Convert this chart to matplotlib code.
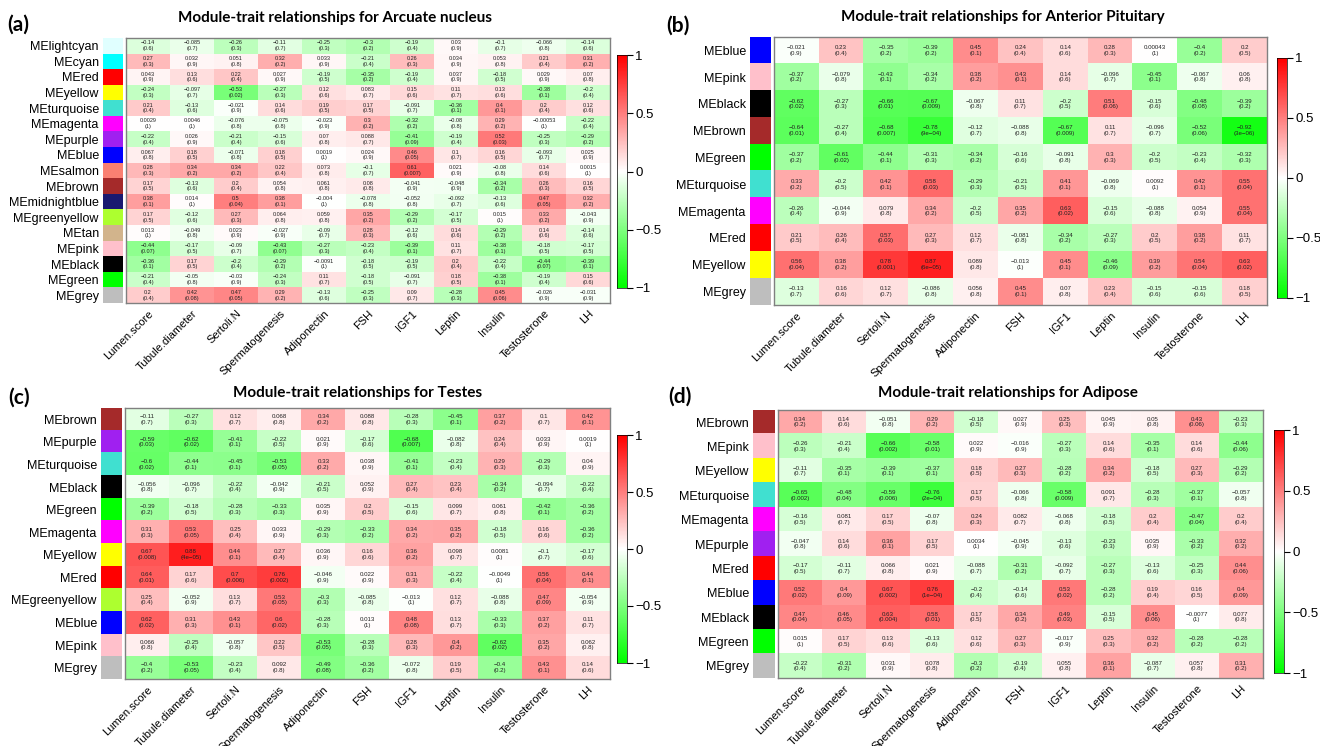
import numpy as np
import matplotlib.pyplot as plt
from matplotlib.colors import LinearSegmentedColormap, ListedColormap

W, H = 1320, 746

traits = ['Lumen.score', 'Tubule.diameter', 'Sertoli.N', 'Spermatogenesis', 'Adiponectin',
          'FSH', 'IGF1', 'Leptin', 'Insulin', 'Testosterone', 'LH']

rcolors = {'lightcyan': '#E0FFFF', 'cyan': '#00FFFF', 'red': '#FF0000', 'yellow': '#FFFF00',
           'turquoise': '#40E0D0', 'magenta': '#FF00FF', 'purple': '#A020F0', 'blue': '#0000FF',
           'salmon': '#FA8072', 'brown': '#A52A2A', 'midnightblue': '#191970',
           'greenyellow': '#ADFF2F', 'tan': '#D2B48C', 'pink': '#FFC0CB', 'black': '#000000',
           'green': '#00FF00', 'grey': '#BEBEBE'}

# (a) Arcuate nucleus
mods_a = ['lightcyan', 'cyan', 'red', 'yellow', 'turquoise', 'magenta', 'purple', 'blue', 'salmon',
          'brown', 'midnightblue', 'greenyellow', 'tan', 'pink', 'black', 'green', 'grey']
cor_a = [
    [-0.14, -0.085, -0.26, -0.11, -0.25, -0.3, -0.19, 0.03, -0.1, -0.066, -0.14],
    [0.27, 0.032, 0.051, 0.32, 0.033, -0.21, 0.26, 0.034, 0.053, 0.21, 0.31],
    [0.043, 0.13, 0.22, 0.027, -0.19, -0.35, -0.19, 0.037, -0.18, 0.029, 0.07],
    [-0.24, -0.097, -0.53, -0.27, 0.12, 0.083, 0.15, 0.11, 0.13, -0.38, -0.2],
    [0.21, -0.13, -0.021, 0.14, 0.19, 0.17, -0.091, -0.36, 0.4, 0.2, 0.12],
    [0.0029, 0.0046, -0.076, -0.075, -0.023, 0.3, -0.32, -0.08, 0.29, -0.00053, -0.22],
    [-0.22, 0.026, -0.21, -0.15, 0.07, 0.088, -0.41, -0.19, 0.52, -0.25, -0.29],
    [0.067, 0.18, -0.071, 0.18, 0.0019, 0.024, 0.46, 0.1, 0.16, -0.093, 0.025],
    [0.28, 0.34, 0.34, 0.22, 0.073, -0.1, 0.61, 0.021, -0.08, 0.14, 0.0015],
    [0.17, -0.13, 0.2, 0.054, 0.061, 0.08, -0.041, -0.048, -0.34, 0.26, 0.16],
    [0.38, 0.014, 0.5, 0.38, -0.004, -0.078, -0.052, -0.092, -0.13, 0.47, 0.32],
    [0.17, -0.12, 0.27, 0.064, 0.059, 0.35, -0.29, -0.17, 0.015, 0.33, -0.043],
    [0.013, -0.049, 0.023, -0.027, -0.09, 0.28, -0.12, 0.14, -0.29, 0.14, -0.14],
    [-0.44, -0.17, -0.09, -0.43, -0.27, -0.23, -0.39, 0.11, -0.38, -0.18, -0.17],
    [-0.36, 0.17, -0.2, -0.29, -0.0091, -0.18, -0.19, 0.2, -0.22, -0.44, -0.39],
    [-0.21, -0.05, -0.03, -0.24, 0.11, -0.18, -0.091, 0.18, -0.38, -0.19, 0.15],
    [0.2, 0.42, 0.47, 0.29, -0.13, -0.25, 0.09, -0.28, 0.45, -0.026, -0.031],
]
p_a = [
    [0.6, 0.7, 0.3, 0.7, 0.3, 0.2, 0.4, 0.9, 0.7, 0.8, 0.6],
    [0.3, 0.9, 0.8, 0.2, 0.9, 0.4, 0.3, 0.9, 0.8, 0.4, 0.2],
    [0.9, 0.6, 0.4, 0.9, 0.5, 0.2, 0.4, 0.9, 0.5, 0.9, 0.8],
    [0.3, 0.7, 0.02, 0.3, 0.6, 0.7, 0.6, 0.7, 0.6, 0.1, 0.4],
    [0.4, 0.6, 0.9, 0.6, 0.5, 0.5, 0.7, 0.1, 0.1, 0.4, 0.6],
    [1, 1, 0.8, 0.8, 0.9, 0.2, 0.2, 0.8, 0.2, 1, 0.4],
    [0.4, 0.9, 0.4, 0.6, 0.8, 0.7, 0.09, 0.4, 0.03, 0.3, 0.2],
    [0.8, 0.5, 0.8, 0.5, 1, 0.9, 0.05, 0.7, 0.5, 0.7, 0.9],
    [0.3, 0.2, 0.2, 0.4, 0.8, 0.7, 0.007, 0.9, 0.8, 0.6, 1],
    [0.5, 0.6, 0.4, 0.8, 0.8, 0.8, 0.9, 0.9, 0.2, 0.3, 0.5],
    [0.1, 1, 0.04, 0.1, 1, 0.8, 0.8, 0.7, 0.6, 0.05, 0.2],
    [0.5, 0.6, 0.3, 0.8, 0.8, 0.2, 0.2, 0.5, 1, 0.2, 0.9],
    [1, 0.8, 0.9, 0.9, 0.7, 0.3, 0.6, 0.6, 0.2, 0.6, 0.6],
    [0.07, 0.5, 0.7, 0.07, 0.3, 0.4, 0.1, 0.7, 0.1, 0.5, 0.5],
    [0.1, 0.5, 0.4, 0.2, 1, 0.5, 0.5, 0.4, 0.4, 0.07, 0.1],
    [0.4, 0.8, 0.9, 0.3, 0.7, 0.5, 0.7, 0.5, 0.1, 0.4, 0.6],
    [0.4, 0.08, 0.05, 0.2, 0.6, 0.3, 0.7, 0.3, 0.06, 0.9, 0.9],
]

# (b) Anterior Pituitary
mods_b = ['blue', 'pink', 'black', 'brown', 'green', 'turquoise', 'magenta', 'red', 'yellow', 'grey']
cor_b = [
    [-0.021, 0.23, -0.35, -0.39, 0.45, 0.24, 0.14, 0.28, 0.00043, -0.4, 0.2],
    [-0.37, -0.079, -0.43, -0.34, 0.38, 0.43, 0.14, -0.096, -0.45, -0.067, 0.06],
    [-0.62, -0.27, -0.66, -0.67, -0.067, 0.11, -0.2, 0.51, -0.15, -0.48, -0.39],
    [-0.64, -0.27, -0.68, -0.78, -0.12, -0.088, -0.67, 0.11, -0.096, -0.52, -0.92],
    [-0.37, -0.61, -0.44, -0.31, -0.34, -0.16, -0.091, 0.3, -0.2, -0.23, -0.32],
    [0.33, -0.2, 0.42, 0.58, -0.29, -0.21, 0.41, -0.069, 0.0092, 0.42, 0.55],
    [-0.26, -0.044, 0.079, 0.34, -0.2, 0.35, 0.63, -0.15, -0.088, 0.054, 0.55],
    [0.21, 0.26, 0.57, 0.27, 0.12, -0.081, -0.34, -0.27, 0.2, 0.38, 0.11],
    [0.56, 0.38, 0.78, 0.87, 0.089, -0.013, 0.45, -0.46, 0.39, 0.54, 0.63],
    [-0.13, 0.16, 0.12, -0.086, 0.056, 0.45, 0.07, 0.23, -0.15, -0.15, 0.18],
]
p_b = [
    [0.9, 0.4, 0.2, 0.2, 0.1, 0.4, 0.6, 0.3, 1, 0.2, 0.5],
    [0.2, 0.8, 0.1, 0.2, 0.2, 0.1, 0.6, 0.7, 0.1, 0.8, 0.8],
    [0.02, 0.3, 0.01, 0.009, 0.8, 0.7, 0.5, 0.06, 0.6, 0.08, 0.2],
    [0.01, 0.4, 0.007, 9e-04, 0.7, 0.8, 0.009, 0.7, 0.7, 0.06, 3e-06],
    [0.2, 0.02, 0.1, 0.3, 0.2, 0.6, 0.8, 0.3, 0.5, 0.4, 0.3],
    [0.2, 0.5, 0.1, 0.03, 0.3, 0.5, 0.1, 0.8, 1, 0.1, 0.04],
    [0.4, 0.9, 0.8, 0.2, 0.5, 0.2, 0.02, 0.6, 0.8, 0.9, 0.04],
    [0.5, 0.4, 0.03, 0.3, 0.7, 0.8, 0.2, 0.3, 0.5, 0.2, 0.7],
    [0.04, 0.2, 0.001, 6e-05, 0.8, 1, 0.1, 0.09, 0.2, 0.04, 0.02],
    [0.7, 0.6, 0.7, 0.8, 0.8, 0.1, 0.8, 0.4, 0.6, 0.6, 0.5],
]

# (c) Testes
mods_c = ['brown', 'purple', 'turquoise', 'black', 'green', 'magenta', 'yellow', 'red',
          'greenyellow', 'blue', 'pink', 'grey']
cor_c = [
    [-0.11, -0.27, 0.12, 0.068, 0.34, 0.088, -0.28, -0.45, 0.37, 0.1, 0.42],
    [-0.59, -0.62, -0.41, -0.22, 0.021, -0.17, -0.68, -0.082, 0.24, 0.033, 0.0019],
    [-0.6, -0.44, -0.45, -0.53, 0.33, 0.038, -0.41, -0.23, 0.29, -0.29, 0.04],
    [-0.056, -0.096, -0.22, -0.042, -0.21, 0.052, 0.27, 0.23, -0.34, -0.094, -0.22],
    [-0.39, -0.18, -0.28, -0.33, 0.035, 0.2, -0.15, 0.099, 0.061, -0.42, -0.36],
    [0.31, 0.53, 0.25, 0.033, -0.29, -0.33, 0.34, 0.35, -0.18, 0.16, -0.36],
    [0.67, 0.88, 0.44, 0.27, 0.036, 0.16, 0.36, 0.098, 0.0081, -0.1, -0.17],
    [0.64, 0.17, 0.7, 0.76, -0.046, 0.022, 0.31, -0.22, -0.0049, 0.56, 0.44],
    [0.25, -0.052, 0.13, 0.53, -0.3, -0.085, -0.013, 0.12, -0.088, 0.47, -0.054],
    [0.62, 0.31, 0.43, 0.6, -0.28, 0.013, 0.48, 0.13, -0.33, 0.37, 0.11],
    [0.066, -0.25, -0.057, 0.22, -0.53, -0.28, 0.28, 0.4, -0.62, 0.35, 0.062],
    [-0.4, -0.53, -0.23, 0.092, -0.49, -0.36, -0.072, 0.19, -0.4, 0.43, 0.14],
]
p_c = [
    [0.7, 0.3, 0.7, 0.8, 0.2, 0.8, 0.3, 0.1, 0.2, 0.7, 0.1],
    [0.03, 0.02, 0.1, 0.5, 0.9, 0.6, 0.007, 0.8, 0.4, 0.9, 1],
    [0.02, 0.1, 0.1, 0.05, 0.2, 0.9, 0.1, 0.4, 0.3, 0.3, 0.9],
    [0.8, 0.7, 0.4, 0.9, 0.5, 0.9, 0.4, 0.4, 0.2, 0.7, 0.4],
    [0.2, 0.5, 0.3, 0.3, 0.9, 0.5, 0.6, 0.7, 0.8, 0.1, 0.2],
    [0.3, 0.05, 0.4, 0.9, 0.3, 0.2, 0.2, 0.2, 0.5, 0.6, 0.2],
    [0.008, 4e-05, 0.1, 0.4, 0.9, 0.6, 0.2, 0.7, 1, 0.7, 0.6],
    [0.01, 0.6, 0.006, 0.002, 0.9, 0.9, 0.3, 0.4, 1, 0.04, 0.1],
    [0.4, 0.9, 0.7, 0.05, 0.3, 0.8, 1, 0.7, 0.8, 0.09, 0.9],
    [0.02, 0.3, 0.1, 0.02, 0.3, 1, 0.08, 0.7, 0.3, 0.2, 0.7],
    [0.8, 0.4, 0.8, 0.5, 0.05, 0.3, 0.3, 0.2, 0.02, 0.2, 0.8],
    [0.2, 0.05, 0.4, 0.8, 0.08, 0.2, 0.8, 0.5, 0.2, 0.1, 0.6],
]

# (d) Adipose
mods_d = ['brown', 'pink', 'yellow', 'turquoise', 'magenta', 'purple', 'red', 'blue', 'black',
          'green', 'grey']
cor_d = [
    [0.34, 0.14, -0.051, 0.29, -0.18, 0.027, 0.25, 0.045, 0.05, 0.43, -0.23],
    [-0.26, -0.21, -0.66, -0.58, 0.022, -0.016, -0.27, 0.14, -0.35, 0.14, -0.44],
    [-0.11, -0.35, -0.39, -0.37, 0.18, 0.27, -0.28, 0.34, -0.18, 0.27, -0.29],
    [-0.65, -0.48, -0.59, -0.76, 0.17, -0.066, -0.58, 0.091, -0.28, -0.37, -0.057],
    [-0.16, 0.081, 0.17, -0.07, 0.24, 0.082, -0.068, -0.18, 0.2, -0.47, 0.2],
    [-0.047, 0.14, 0.36, 0.17, 0.0034, -0.045, -0.13, -0.23, 0.035, -0.33, 0.32],
    [-0.17, -0.11, 0.066, 0.021, -0.088, -0.31, -0.092, -0.27, -0.13, -0.25, 0.44],
    [0.52, 0.4, 0.67, 0.76, -0.2, -0.14, 0.53, -0.28, 0.19, 0.16, 0.4],
    [0.47, 0.46, 0.63, 0.58, 0.17, 0.34, 0.49, -0.15, 0.45, -0.0077, 0.077],
    [0.015, 0.17, 0.13, -0.13, 0.12, 0.27, -0.017, 0.25, 0.32, -0.28, -0.28],
    [-0.22, -0.31, 0.031, 0.078, -0.3, -0.19, 0.055, 0.36, -0.087, 0.057, 0.31],
]
p_d = [
    [0.2, 0.6, 0.8, 0.2, 0.5, 0.9, 0.3, 0.9, 0.8, 0.06, 0.3],
    [0.3, 0.4, 0.002, 0.01, 0.9, 0.9, 0.3, 0.6, 0.1, 0.6, 0.06],
    [0.7, 0.1, 0.1, 0.1, 0.5, 0.3, 0.2, 0.2, 0.5, 0.3, 0.2],
    [0.002, 0.04, 0.006, 2e-04, 0.5, 0.8, 0.009, 0.7, 0.3, 0.1, 0.8],
    [0.5, 0.7, 0.5, 0.8, 0.3, 0.7, 0.8, 0.5, 0.4, 0.04, 0.4],
    [0.8, 0.6, 0.1, 0.5, 1, 0.9, 0.6, 0.3, 0.9, 0.2, 0.2],
    [0.5, 0.7, 0.8, 0.9, 0.7, 0.2, 0.7, 0.3, 0.6, 0.3, 0.06],
    [0.02, 0.09, 0.002, 1e-04, 0.4, 0.6, 0.02, 0.2, 0.4, 0.5, 0.09],
    [0.04, 0.05, 0.004, 0.01, 0.5, 0.2, 0.03, 0.5, 0.06, 1, 0.8],
    [1, 0.5, 0.6, 0.6, 0.6, 0.3, 0.9, 0.3, 0.2, 0.2, 0.2],
    [0.4, 0.2, 0.9, 0.8, 0.2, 0.4, 0.8, 0.1, 0.7, 0.8, 0.2],
]

cmap = LinearSegmentedColormap.from_list('gwr', ['#00FF00', '#FFFFFF', '#FF0000'])
plt.rcParams['font.family'] = ['Liberation Sans', 'DejaVu Sans']


def fmt_r(v):
    return '{:.2g}'.format(v).replace('-', '\u2212')


def fmt_p(v):
    s = '{:.0e}'.format(v) if v < 0.001 else '{:g}'.format(v)
    return s.replace('-', '\u2212')


def box(x0, y0, x1, y1):
    return [x0 / W, 1 - y1 / H, (x1 - x0) / W, (y1 - y0) / H]


fig = plt.figure(figsize=(W / 100, H / 100), dpi=100)


def panel(letter, title, mods, cor, pv, hm, sw, cb, letter_xy, title_xy, cell_fs):
    cor = np.array(cor)
    nr, nc = cor.shape
    ax = fig.add_axes(box(*hm))
    ax.imshow(cor, cmap=cmap, vmin=-1, vmax=1, aspect='auto', interpolation='nearest')
    for i in range(nr):
        for j in range(nc):
            ax.text(j, i, fmt_r(cor[i][j]) + '\n(' + fmt_p(pv[i][j]) + ')', ha='center',
                    va='center', fontsize=cell_fs, linespacing=1.15, color='#222222')
    ax.set_yticks([])
    ax.set_xticks(range(nc))
    ax.set_xticklabels(traits, rotation=45, ha='right', rotation_mode='anchor', fontsize=8.0)
    ax.tick_params(axis='x', length=0, pad=4)
    for s in ax.spines.values():
        s.set_color('#808080')
        s.set_linewidth(1.0)

    # module colour swatches with labels
    axs = fig.add_axes(box(sw[0], hm[1], sw[1], hm[3]))
    cols = [rcolors[m] for m in mods]
    axs.imshow(np.arange(nr).reshape(-1, 1), cmap=ListedColormap(cols), aspect='auto',
               interpolation='nearest')
    axs.set_xticks([])
    axs.set_yticks(range(nr))
    axs.set_yticklabels(['ME' + m for m in mods], fontsize=9)
    axs.tick_params(axis='y', length=0, pad=3)
    for s in axs.spines.values():
        s.set_visible(False)

    axc = fig.add_axes(box(*cb))
    grad = np.linspace(1, -1, 200).reshape(-1, 1)
    axc.imshow(grad, cmap=cmap, vmin=-1, vmax=1, aspect='auto', extent=[0, 1, -1, 1])
    axc.set_xticks([])
    axc.yaxis.tick_right()
    axc.set_yticks([1, 0.5, 0, -0.5, -1])
    axc.set_yticklabels(['1', '0.5', '0', '\u22120.5', '\u22121'], fontsize=9.5)
    axc.tick_params(axis='y', length=4, width=0.8, pad=2)
    for s in axc.spines.values():
        s.set_linewidth(0.5)

    fig.text(letter_xy[0] / W, 1 - letter_xy[1] / H, letter, fontsize=15, fontweight='bold',
             family='Lato', va='center', ha='left')
    fig.text(title_xy[0] / W, 1 - title_xy[1] / H, title, fontsize=11, fontweight='bold',
             family='Lato', va='center', ha='center')


panel('(a)', 'Module-trait relationships for Arcuate nucleus', mods_a, cor_a, p_a,
      (126, 38, 610, 303), (103, 123), (617, 55, 627, 288), (7, 25), (335, 18), 4.0)
panel('(b)', 'Module-trait relationships for Anterior Pituitary', mods_b, cor_b, p_b,
      (774, 37, 1267, 305), (750, 771), (1277, 58, 1287, 298), (666, 26), (1003, 17), 4.4)
panel('(c)', 'Module-trait relationships for Testes', mods_c, cor_c, p_c,
      (125, 408, 610, 679), (101, 122), (617, 435, 627, 663), (8, 398), (358, 393), 4.4)
panel('(d)', 'Module-trait relationships for Adipose', mods_d, cor_d, p_d,
      (778, 410, 1263, 678), (753, 775), (1274, 430, 1284, 673), (668, 397), (1008, 393), 4.4)

fig.savefig('out.png', dpi=100)
